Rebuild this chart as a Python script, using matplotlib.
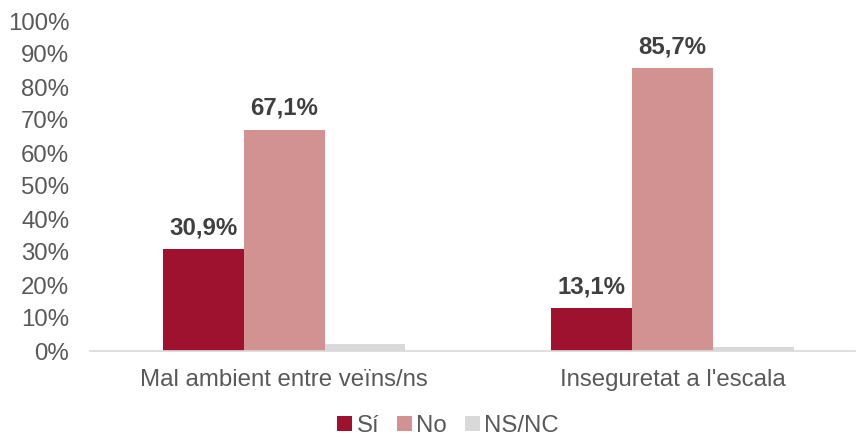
import matplotlib
matplotlib.use("Agg")
import matplotlib.pyplot as plt
import numpy as np

categories = ["Mal ambient entre veïns/ns", "Inseguretat a l'escala"]
series_names = ["Sí", "No", "NS/NC"]
si_values = [30.9, 13.1]
no_values = [67.1, 85.7]
nsnc_values = [2.0, 1.2]
yticks = [0, 10, 20, 30, 40, 50, 60, 70, 80, 90, 100]

colors = ["#9E1230", "#D39292", "#D9D9D9"]
text_color = "#595959"
fs = 17.3

plt.rcParams['font.family'] = ['Liberation Sans', 'DejaVu Sans']

fig = plt.figure(figsize=(8.57, 4.4), dpi=100)
ax = fig.add_axes([90/857, (440-351)/440, (855-90)/857, (351-21)/440])

x = np.arange(len(categories))
w = 0.208
all_vals = [si_values, no_values, nsnc_values]
for i, (vals, name, c) in enumerate(zip(all_vals, series_names, colors)):
    bars = ax.bar(x + (i - 1) * w, vals, width=w, color=c, label=name)
    if i < 2:
        for b, v in zip(bars, vals):
            ax.annotate(f"{v:.1f}%".replace(".", ","),
                        (b.get_x() + b.get_width() / 2, v),
                        xytext=(0, 7), textcoords="offset points",
                        ha="center", va="bottom", fontsize=fs,
                        fontweight="bold", color="#404040")

ax.set_xlim(-0.5, 1.47)
ax.set_ylim(0, 100)
ax.set_yticks(yticks)
ax.set_yticklabels([f"{t}%" for t in yticks])
ax.set_xticks(x)
ax.set_xticklabels(categories)
ax.tick_params(axis="y", length=0, pad=15, labelsize=fs, labelcolor=text_color)
ax.tick_params(axis="x", length=0, pad=13, labelsize=fs, labelcolor=text_color)
for s in ["top", "right", "left"]:
    ax.spines[s].set_visible(False)
ax.spines["bottom"].set_color("#D9D9D9")
ax.spines["bottom"].set_linewidth(1.2)

fig.legend(loc="center", bbox_to_anchor=(0.523, 0.032), ncol=3,
           frameon=False, fontsize=fs, handlelength=0.6, handleheight=0.6,
           handletextpad=0.2, columnspacing=0.75, labelcolor=text_color,
           borderpad=0, borderaxespad=0)

fig.savefig("out.png", dpi=100)
